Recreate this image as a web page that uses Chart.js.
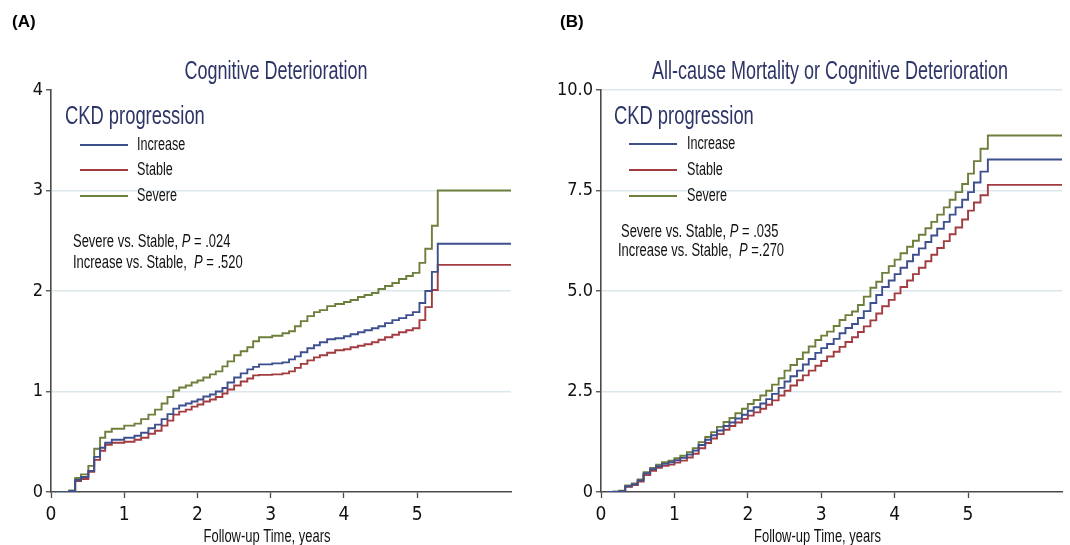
<!DOCTYPE html>
<html>
<head>
<meta charset="utf-8">
<script src="https://cdn.jsdelivr.net/npm/chart.js@4.4.0/dist/chart.umd.min.js"></script>
<style>
body { margin: 0; background: #fff; }
#wrap { position: relative; width: 1070px; height: 545px; overflow: hidden; }
canvas { position: absolute; top: 0; }
</style>
</head>
<body>
<div id="wrap">
  <canvas id="chartA" width="535" height="545" style="left:0px"></canvas>
  <canvas id="chartB" width="522" height="545" style="left:548px"></canvas>
</div>
<script>
// series and ticks
var seriesNames = ['Increase', 'Stable', 'Severe'];
var xTicks = [0, 1, 2, 3, 4, 5];
var yTicksA = [0, 1, 2, 3, 4];
var yTicksB = [0, 2.5, 5, 7.5, 10];
var xEnd = 6.28;

// (A) cognitive deterioration, cumulative incidence
var timeA = [0.08, 0.25, 0.33, 0.41, 0.51, 0.59, 0.67, 0.74, 0.83, 1.0, 1.14, 1.23, 1.33, 1.42, 1.51, 1.59, 1.67, 1.75, 1.84, 1.92,
  2.0, 2.08, 2.17, 2.25, 2.34, 2.41, 2.5, 2.59, 2.68, 2.76, 2.84, 3.02, 3.16, 3.25, 3.33, 3.41, 3.5, 3.59, 3.67, 3.77, 3.88,
  4.0, 4.09, 4.19, 4.28, 4.38, 4.47, 4.56, 4.66, 4.75, 4.85, 4.94, 5.03, 5.11, 5.2, 5.28];
var increaseA = [0, 0.01, 0.12, 0.15, 0.21, 0.35, 0.44, 0.49, 0.52, 0.54, 0.56, 0.59, 0.635, 0.67, 0.725, 0.775, 0.83, 0.86, 0.88, 0.9,
  0.92, 0.95, 0.97, 1.0, 1.035, 1.09, 1.14, 1.18, 1.22, 1.245, 1.27, 1.28, 1.29, 1.32, 1.35, 1.39, 1.43, 1.46, 1.49, 1.52, 1.53,
  1.55, 1.57, 1.59, 1.61, 1.63, 1.65, 1.68, 1.71, 1.73, 1.76, 1.79, 1.88, 2.0, 2.19, 2.47];
var stableA = [0, 0.01, 0.11, 0.13, 0.2, 0.32, 0.41, 0.47, 0.49, 0.5, 0.52, 0.54, 0.58, 0.61, 0.66, 0.71, 0.77, 0.8, 0.82, 0.85,
  0.87, 0.9, 0.92, 0.945, 0.98, 1.02, 1.06, 1.1, 1.13, 1.16, 1.165, 1.17, 1.18, 1.2, 1.235, 1.275, 1.31, 1.34, 1.36, 1.385, 1.41,
  1.42, 1.44, 1.455, 1.47, 1.49, 1.515, 1.54, 1.565, 1.59, 1.61, 1.63, 1.71, 1.84, 2.01, 2.26];
var severeA = [0, 0.016, 0.14, 0.175, 0.26, 0.43, 0.54, 0.6, 0.63, 0.66, 0.68, 0.725, 0.77, 0.82, 0.88, 0.945, 1.01, 1.04, 1.06, 1.09,
  1.11, 1.14, 1.17, 1.2, 1.25, 1.3, 1.36, 1.4, 1.44, 1.5, 1.54, 1.555, 1.58, 1.6, 1.65, 1.7, 1.75, 1.79, 1.81, 1.85, 1.87,
  1.89, 1.91, 1.94, 1.96, 1.98, 2.02, 2.05, 2.08, 2.12, 2.15, 2.18, 2.28, 2.42, 2.65, 3.0];

// (B) all-cause mortality or cognitive deterioration
var timeB = [0.08, 0.17, 0.25, 0.33, 0.42, 0.5, 0.58, 0.67, 0.75, 0.83, 0.92, 1.0,
  1.08, 1.17, 1.25, 1.33, 1.42, 1.5, 1.58, 1.67, 1.75, 1.83, 1.92, 2.0,
  2.08, 2.17, 2.25, 2.33, 2.42, 2.5, 2.58, 2.67, 2.75, 2.83, 2.92, 3.0,
  3.08, 3.17, 3.25, 3.33, 3.42, 3.5, 3.58, 3.67, 3.75, 3.83, 3.92, 4.0,
  4.08, 4.17, 4.25, 4.33, 4.42, 4.5, 4.58, 4.67, 4.75, 4.83, 4.92, 5.0,
  5.08, 5.17, 5.27];
var increaseB = [0, 0.01, 0.02, 0.14, 0.19, 0.29, 0.46, 0.57, 0.64, 0.7, 0.74, 0.79,
  0.85, 0.93, 1.03, 1.17, 1.3, 1.41, 1.53, 1.64, 1.73, 1.83, 1.92, 2.02,
  2.11, 2.2, 2.31, 2.44, 2.59, 2.75, 2.88, 3.02, 3.17, 3.31, 3.46, 3.58,
  3.68, 3.81, 3.95, 4.08, 4.18, 4.33, 4.5, 4.7, 4.9, 5.1, 5.26, 5.42,
  5.58, 5.74, 5.9, 6.06, 6.22, 6.38, 6.55, 6.72, 6.9, 7.08, 7.27, 7.46,
  7.7, 7.97, 8.27];
var stableB = [0, 0, 0.02, 0.13, 0.17, 0.26, 0.42, 0.53, 0.6, 0.65, 0.68, 0.73,
  0.78, 0.86, 0.95, 1.09, 1.22, 1.33, 1.44, 1.55, 1.64, 1.73, 1.82, 1.9,
  1.98, 2.07, 2.17, 2.28, 2.4, 2.52, 2.65, 2.78, 2.9, 3.02, 3.14, 3.26,
  3.37, 3.49, 3.61, 3.73, 3.85, 3.98, 4.12, 4.27, 4.44, 4.62, 4.78, 4.94,
  5.1, 5.26, 5.42, 5.58, 5.74, 5.9, 6.07, 6.24, 6.41, 6.58, 6.78, 7.0,
  7.2, 7.38, 7.64];
var severeB = [0, 0.01, 0.03, 0.16, 0.21, 0.31, 0.49, 0.6, 0.68, 0.74, 0.78, 0.84,
  0.9, 0.99, 1.09, 1.24, 1.37, 1.49, 1.62, 1.74, 1.84, 1.96, 2.07, 2.19,
  2.29, 2.4, 2.52, 2.67, 2.83, 3.02, 3.16, 3.31, 3.47, 3.62, 3.78, 3.89,
  3.99, 4.13, 4.28, 4.4, 4.49, 4.65, 4.86, 5.08, 5.23, 5.45, 5.62, 5.78,
  5.94, 6.1, 6.25, 6.4, 6.56, 6.72, 6.9, 7.08, 7.27, 7.46, 7.66, 7.92,
  8.23, 8.54, 8.87];

var lineColors = ['#3e4f8e', '#a23c40', '#6e7f3c'];
var FONT = "'Liberation Sans', Arial, sans-serif";
var TICKFONT = "'DejaVu Sans Condensed', 'Liberation Sans', sans-serif";
var SX = 0.72;   // the original figure's lettering is horizontally squeezed
var NAVY = '#2d3566';
var AXIS = '#4a4a4a';

Chart.defaults.font.family = TICKFONT;

function toPoints(times, vals) {
    var pts = [];
    for (var i = 0; i < times.length; i++) {
        pts.push({x: times[i], y: vals[i]});
    }
    // flat tail to end of the axis
    pts.push({x: xEnd, y: vals[vals.length - 1]});
    return pts;
}

// narrow text: draw with a horizontal squeeze, returns the drawn width
function narrowText(ctx, text, x, y, font, align) {
    ctx.font = font;
    ctx.textAlign = align || 'left';
    ctx.save();
    ctx.translate(x, y);
    ctx.scale(SX, 1);
    ctx.fillText(text, 0, 0);
    ctx.restore();
    return ctx.measureText(text).width * SX;
}

// titles, legend and p-value notes drawn on top of the plot
function overlay(cfg) {
    return {
        id: 'overlay',
        afterDraw: function(chart) {
            var ctx = chart.ctx;
            var ca = chart.chartArea;
            ctx.save();
            ctx.textBaseline = 'middle';

            ctx.fillStyle = '#000';
            ctx.font = 'bold 17px ' + FONT;
            ctx.textAlign = 'left';
            ctx.fillText(cfg.panel, cfg.panelX, 22);

            ctx.fillStyle = NAVY;
            narrowText(ctx, cfg.title, cfg.titleX, 72, '25px ' + FONT, 'center');
            narrowText(ctx, 'CKD progression', cfg.legendX, 117, '25.5px ' + FONT);

            for (var i = 0; i < seriesNames.length; i++) {
                var y = cfg.rowY[i];
                ctx.strokeStyle = lineColors[i];
                ctx.lineWidth = 1.8;
                ctx.beginPath();
                ctx.moveTo(cfg.lineX[0], y);
                ctx.lineTo(cfg.lineX[1], y);
                ctx.stroke();
                ctx.fillStyle = '#111';
                narrowText(ctx, seriesNames[i], cfg.labelX, y, '17.5px ' + FONT);
            }

            ctx.fillStyle = '#111';
            for (var j = 0; j < cfg.notes.length; j++) {
                var n = cfg.notes[j];
                var x = n.x;
                x += narrowText(ctx, n.pre, x, n.y, '18px ' + FONT);
                x += narrowText(ctx, 'P', x, n.y, 'italic 18px ' + FONT);
                narrowText(ctx, n.post, x, n.y, '18px ' + FONT);
            }

            narrowText(ctx, 'Follow-up Time, years', (ca.left + ca.right) / 2 - 14, 537, '18px ' + FONT, 'center');
            ctx.restore();
        }
    };
}

function drawChart(canvasId, times, sets, yMax, yTicks, yWidth, padRight, noTopGrid, cfg) {
    var datasets = [];
    for (var i = 0; i < sets.length; i++) {
        datasets.push({
            label: seriesNames[i],
            data: toPoints(times, sets[i]),
            borderColor: lineColors[i],
            borderWidth: 1.9,
            pointRadius: 0,
            stepped: true,
            fill: false
        });
    }
    var ctx = document.getElementById(canvasId).getContext('2d');
    return new Chart(ctx, {
        type: 'line',
        data: {datasets: datasets},
        options: {
            responsive: false,
            animation: false,
            layout: {padding: {top: 90, right: padRight, left: 0, bottom: 0}},
            plugins: {legend: {display: false}, tooltip: {enabled: false}, title: {display: false}},
            scales: {
                x: {
                    type: 'linear', min: 0, max: xEnd,
                    afterBuildTicks: function(s) { s.ticks = xTicks.map(function(v) { return {value: v}; }); },
                    afterFit: function(s) { s.height = 53; },
                    ticks: {color: '#111', font: {size: 19}, padding: 6, maxRotation: 0},
                    grid: {drawOnChartArea: false, drawTicks: true, tickLength: 6, tickColor: AXIS, tickWidth: 1.3},
                    border: {color: AXIS, width: 1.6}
                },
                y: {
                    min: 0, max: yMax,
                    afterBuildTicks: function(s) { s.ticks = yTicks.map(function(v) { return {value: v}; }); },
                    afterFit: function(s) { s.width = yWidth; },
                    ticks: {
                        color: '#111', font: {size: 18}, padding: 3,
                        callback: function(v) { return yMax > 5 && v !== 0 ? v.toFixed(1) : String(v); }
                    },
                    grid: {
                        color: function(c) {
                            if (!c.tick || c.tick.value === 0) return 'rgba(0,0,0,0)';
                            if (noTopGrid && c.tick.value === yMax) return 'rgba(0,0,0,0)';
                            return '#dbe7ea';
                        },
                        lineWidth: 1.5, tickLength: 5, tickColor: AXIS, tickWidth: 1.3
                    },
                    border: {color: AXIS, width: 1.6}
                }
            }
        },
        plugins: [overlay(cfg)]
    });
}

drawChart('chartA', timeA, [increaseA, stableA, severeA], 4, yTicksA, 51, 24, true, {
    panel: '(A)', panelX: 12,
    title: 'Cognitive Deterioration', titleX: 276,
    legendX: 65, lineX: [80, 128], labelX: 137, rowY: [145, 170, 196],
    notes: [
        {x: 73, y: 242, pre: 'Severe vs. Stable, ', post: ' = .024'},
        {x: 73, y: 263, pre: 'Increase vs. Stable,  ', post: ' = .520'}
    ]
});

drawChart('chartB', timeB, [increaseB, stableB, severeB], 10, yTicksB, 53, 8, false, {
    panel: '(B)', panelX: 12,
    title: 'All-cause Mortality or Cognitive Deterioration', titleX: 282,
    legendX: 66, lineX: [81, 129], labelX: 139, rowY: [144, 170, 196],
    notes: [
        {x: 73, y: 232, pre: 'Severe vs. Stable, ', post: ' = .035'},
        {x: 70, y: 251, pre: 'Increase vs. Stable,  ', post: ' =.270'}
    ]
});
</script>
</body>
</html>
